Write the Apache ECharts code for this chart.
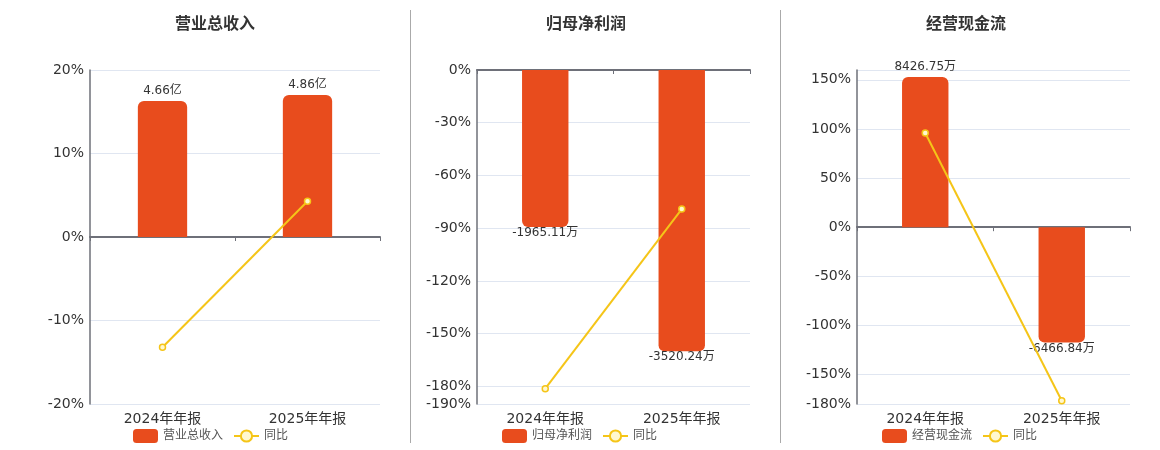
<!DOCTYPE html>
<html>
<head>
<meta charset="utf-8">
<script src="https://cdn.jsdelivr.net/npm/echarts@6/dist/echarts.min.js"></script>
<style>
html,body{margin:0;padding:0;background:#fff;}
#c{position:absolute;left:0;top:0;width:1160px;height:450px;}
.sep{position:absolute;top:10px;height:433px;width:0;border-left:1px solid #aaa;}
</style>
</head>
<body>
<div id="c"></div>
<div class="sep" style="left:410px"></div>
<div class="sep" style="left:780px"></div>
<script>
const categories = ['2024年年报', '2025年年报'];
const titles = ['营业总收入', '归母净利润', '经营现金流'];
const units = ['亿', '万', '万'];
const revenue = [4.66, 4.86];
const revenueYoy = [-13.2, 4.29];
const netProfit = [-1965.11, -3520.24];
const netProfitYoy = [-181.3, -79.14];
const cashFlow = [8426.75, -6466.84];
const cashFlowYoy = [95.8, -176.74];
const pctRanges = [[-20, 20, 10], [-190, 0, null], [-180, 160, null]];
const barRanges = [[-5.72, 5.72], [-4180, 0], [-9920, 8818]];

const barValues = [revenue, netProfit, cashFlow];
const yoyValues = [revenueYoy, netProfitYoy, cashFlowYoy];

const gridLefts = [90, 477, 857];
const gridWidths = [290, 273, 273];
const titleCenters = [210, 581, 961];
const legendLefts = [128, 497, 877];

const BAR = '#e84c1d';
const LINE = '#f5c518';
const AXIS = '#6e7079';
const FONT = '"DejaVu Sans", "Noto Sans CJK SC", sans-serif';

const option = {
  backgroundColor: '#fff',
  animation: false,
  textStyle: { fontFamily: FONT },
  title: [], legend: [], grid: [], xAxis: [], yAxis: [], series: []
};

for (let i = 0; i < 3; i++) {
  option.title.push({
    text: titles[i], left: titleCenters[i], top: 12, textAlign: 'center',
    textStyle: { fontSize: 16, fontWeight: 'bold', color: '#333', fontFamily: FONT }
  });
  option.legend.push({
    data: [titles[i], '同比'], left: legendLefts[i], top: 424,
    itemWidth: 25, itemHeight: 14, itemGap: 10,
    textStyle: { fontSize: 12, color: '#555', fontFamily: FONT }
  });
  option.grid.push({ left: gridLefts[i], width: gridWidths[i], top: 70, bottom: 46 });
  option.xAxis.push({
    type: 'category', gridIndex: i, data: categories,
    axisLine: { onZero: true, onZeroAxisIndex: 2 * i, lineStyle: { color: AXIS, width: 2 } },
    axisTick: { show: true, length: 4, lineStyle: { color: AXIS } },
    axisLabel: { show: false }, splitLine: { show: false }
  });
  option.xAxis.push({
    type: 'category', gridIndex: i, data: categories, position: 'bottom',
    axisLine: { show: false, onZero: false }, axisTick: { show: false },
    axisLabel: { show: true, fontSize: 14, color: '#333', margin: 8, fontFamily: FONT }, splitLine: { show: false }
  });
  const pr = pctRanges[i];
  const yPct = {
    type: 'value', gridIndex: i, min: pr[0], max: pr[1],
    axisLine: { show: true, lineStyle: { color: AXIS, width: 1.5 } },
    axisTick: { show: false },
    axisLabel: { fontSize: 14, color: '#333', margin: 6, formatter: '{value}%', showMaxLabel: i !== 2, fontFamily: FONT },
    splitLine: { show: true, lineStyle: { color: '#e0e6f1' } }
  };
  if (pr[2] != null) yPct.interval = pr[2];
  option.yAxis.push(yPct);
  option.yAxis.push({
    type: 'value', gridIndex: i, min: barRanges[i][0], max: barRanges[i][1], show: false,
    splitLine: { show: false }
  });
  const u = units[i];
  option.series.push({
    name: titles[i], type: 'bar', xAxisIndex: 2 * i, yAxisIndex: 2 * i + 1,
    barWidth: '34%',
    itemStyle: { color: BAR },
    data: barValues[i].map(v => ({
      value: v,
      itemStyle: { borderRadius: v >= 0 ? [6, 6, 0, 0] : [0, 0, 6, 6] },
      label: {
        show: true, position: v >= 0 ? 'top' : 'bottom', distance: v >= 0 ? 4 : 0,
        fontSize: 12, color: '#333', fontFamily: FONT, formatter: () => v.toFixed(2) + u
      }
    }))
  });
  option.series.push({
    name: '同比', type: 'line', xAxisIndex: 2 * i, yAxisIndex: 2 * i,
    data: yoyValues[i], symbol: 'circle', symbolSize: 6,
    lineStyle: { color: LINE, width: 2 },
    itemStyle: { color: '#fff8d0', borderColor: LINE, borderWidth: 1.5 },
    z: 5
  });
}

const chart = echarts.init(document.getElementById('c'), null, { renderer: 'canvas' });
chart.setOption(option);
</script>
</body>
</html>
